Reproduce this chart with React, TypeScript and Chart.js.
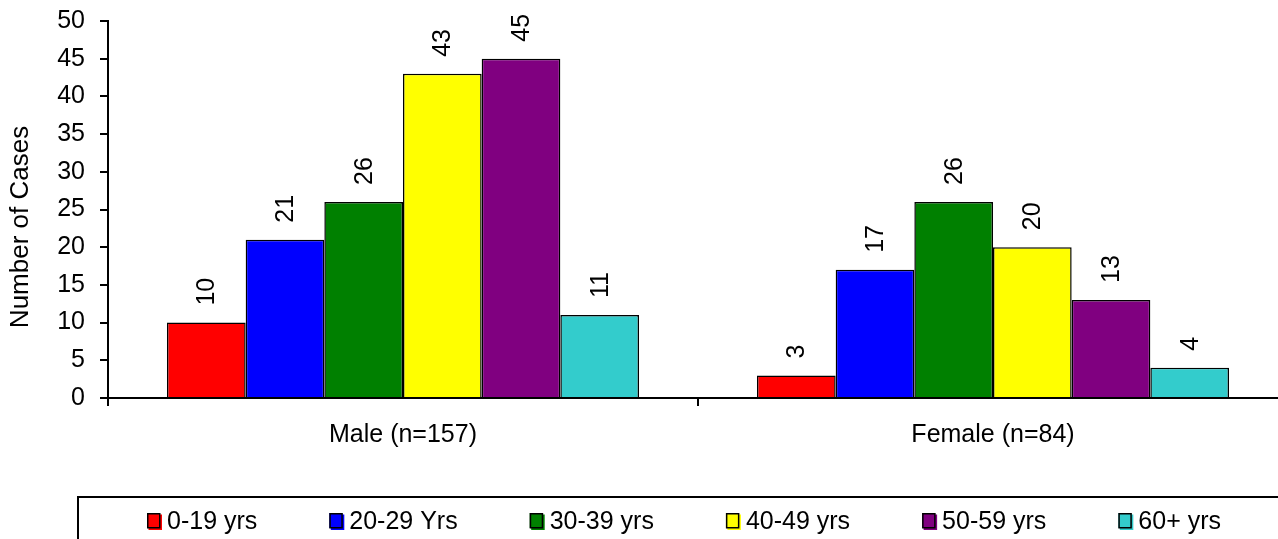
import React, { useEffect, useRef } from "react";
import { Chart, registerables } from "chart.js";

Chart.register(...registerables);

const categories = ["Male (n=157)", "Female (n=84)"];
const ageGroups = ["0-19 yrs", "20-29 Yrs", "30-39 yrs", "40-49 yrs", "50-59 yrs", "60+ yrs"];
const maleCases = [10, 21, 26, 43, 45, 11];
const femaleCases = [3, 17, 26, 20, 13, 4];
const groupColors = ["#FF0000", "#0000FF", "#008000", "#FFFF00", "#800080", "#33CCCC"];
const yAxisTitle = "Number of Cases";
const yMin = 0;
const yMax = 50;
const yStep = 5;

const FONT = "'Liberation Sans', Arial, sans-serif";
const FONT_SIZE = 25;

const valueLabelPlugin = {
  id: "valueLabels",
  afterDatasetsDraw(chart: any) {
    const ctx = chart.ctx;
    ctx.save();
    ctx.font = `${FONT_SIZE}px ${FONT}`;
    ctx.fillStyle = "#000";
    chart.data.datasets.forEach((ds: any, i: number) => {
      const meta = chart.getDatasetMeta(i);
      meta.data.forEach((bar: any, j: number) => {
        ctx.save();
        ctx.translate(bar.x + 1, bar.y - 17);
        ctx.rotate(-Math.PI / 2);
        ctx.textAlign = "left";
        ctx.textBaseline = "middle";
        ctx.fillText(String(ds.data[j]), 0, 0);
        ctx.restore();
      });
    });
    ctx.restore();
  },
};

const titleAndLegendPlugin = {
  id: "titleAndLegend",
  afterDraw(chart: any) {
    const ctx = chart.ctx;
    ctx.save();
    // y-axis title
    ctx.font = `26px ${FONT}`;
    ctx.fillStyle = "#000";
    ctx.translate(21, 227);
    ctx.rotate(-Math.PI / 2);
    ctx.textAlign = "center";
    ctx.textBaseline = "middle";
    ctx.fillText(yAxisTitle, 0, 0);
    ctx.restore();

    // legend box
    ctx.save();
    ctx.strokeStyle = "#000";
    ctx.lineWidth = 2;
    ctx.strokeRect(78, 497, 1400, 100);
    ctx.font = `${FONT_SIZE}px ${FONT}`;
    ctx.textAlign = "left";
    ctx.textBaseline = "middle";
    let x = 147;
    chart.data.datasets.forEach((ds: any) => {
      const color = ds.backgroundColor;
      ctx.fillStyle = color;
      ctx.fillRect(x + 1.5, 514.5, 13.5, 15.5);
      ctx.fillRect(x, 513, 13, 15);
      ctx.strokeStyle = "#000";
      ctx.lineWidth = 1.5;
      ctx.strokeRect(x + 0.75, 513.75, 12, 14);
      ctx.fillStyle = "#000";
      ctx.fillText(ds.label, x + 20, 522);
      const w = ctx.measureText(ds.label).width;
      x += 20 + w + 72;
    });
    ctx.restore();
  },
};

export default function App() {
  const ref = useRef<HTMLCanvasElement | null>(null);

  useEffect(() => {
    if (!ref.current) return;
    const chart = new Chart(ref.current, {
      type: "bar",
      data: {
        labels: categories,
        datasets: ageGroups.map((g, i) => ({
          label: g,
          data: [maleCases[i], femaleCases[i]],
          backgroundColor: groupColors[i],
          borderColor: "#000",
          borderWidth: 1.5,
          categoryPercentage: 0.8,
          barPercentage: 1,
        })),
      },
      options: {
        responsive: false,
        animation: false,
        layout: { padding: { top: 21, right: 12, left: 0, bottom: 0 } },
        plugins: {
          legend: { display: false },
          tooltip: { enabled: false },
        },
        scales: {
          x: {
            grid: {
              display: true,
              drawOnChartArea: false,
              drawTicks: true,
              tickLength: 8,
              color: "#000",
              lineWidth: 2,
              offset: true,
            },
            border: { display: true, color: "#000", width: 2 },
            ticks: {
              color: "#000",
              font: { family: FONT, size: FONT_SIZE },
              padding: 14,
            },
            afterFit: (s: any) => {
              s.height = 141;
              s.paddingLeft = 0;
              s.paddingRight = 0;
            },
          },
          y: {
            min: yMin,
            max: yMax,
            ticks: {
              stepSize: yStep,
              color: "#000",
              font: { family: FONT, size: FONT_SIZE },
              padding: 15,
            },
            grid: {
              drawOnChartArea: false,
              drawTicks: true,
              tickLength: 8,
              color: "#000",
              lineWidth: 2,
            },
            border: { display: true, color: "#000", width: 2 },
            afterFit: (s: any) => {
              s.width = 108;
              s.paddingTop = 0;
              s.paddingBottom = 0;
            },
          },
        },
      },
      plugins: [valueLabelPlugin, titleAndLegendPlugin],
    } as any);
    return () => chart.destroy();
  }, []);

  return (
    <div
      style={{
        position: "fixed",
        left: 0,
        top: 0,
        width: 1278,
        height: 539,
        overflow: "hidden",
        background: "#fff",
      }}
    >
      <canvas ref={ref} width={1300} height={539} style={{ display: "block" }} />
    </div>
  );
}
